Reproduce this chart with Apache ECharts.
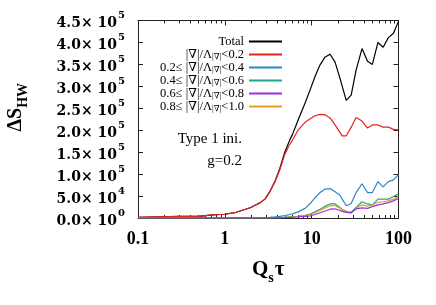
<!DOCTYPE html>
<html><head><meta charset="utf-8">
<script src="https://cdn.jsdelivr.net/npm/echarts@6/dist/echarts.min.js"></script>
<style>html,body{margin:0;padding:0;background:#fff}#c{width:436px;height:305px}</style>
</head><body><div id="c"></div>
<script>
// Q_s tau sample positions
const tau = [0.1, 0.18, 0.3, 0.5, 0.72, 0.88, 1.0, 1.35, 1.5, 2.0, 2.23, 2.55, 2.9, 3.3, 3.8, 4.3, 4.9, 5.6, 6.0, 7.0, 8.4, 9.6, 10.9, 12.5, 14.3, 16.3, 18.6, 21.2, 22.5, 25, 28.5, 32.5, 38, 44, 50, 58, 66.5, 76.5, 87.5, 100];
const total = [1500, 2500, 3500, 3500, 7000, 8000, 8500, 13000, 16000, 24000, 29000, 35000, 43000, 60000, 85000, 113000, 150000, 178000, 190000, 224000, 262000, 292000, 322000, 349000, 367000, 373000, 355000, 318000, 300000, 268000, 280000, 337000, 386000, 357000, 350000, 400000, 389000, 411000, 421000, 448000];
const band1 = [1500, 2500, 3500, 3500, 7000, 8000, 8500, 13000, 16000, 24000, 29000, 35000, 43000, 60000, 83000, 110000, 145000, 168000, 177000, 201000, 218000, 226000, 233000, 236000, 235000, 228000, 212000, 195000, 187000, 187000, 207000, 229000, 221000, 205000, 212000, 212000, 207000, 207000, 202000, 201000];
const band2 = [200, 200, 200, 200, 200, 200, 200, 250, 300, 400, 500, 700, 1000, 1500, 2500, 3500, 5500, 8000, 9500, 14000, 22000, 33000, 46000, 58000, 66000, 67000, 60000, 52000, 43000, 28000, 33000, 58000, 78000, 58000, 58000, 83000, 71000, 83000, 87000, 99000];
const band3 = [100, 100, 100, 100, 100, 100, 100, 100, 100, 150, 200, 250, 300, 500, 800, 1000, 1500, 2500, 3000, 4000, 6000, 9000, 14000, 20000, 27000, 32000, 32000, 24000, 19000, 15000, 13000, 24000, 37000, 32000, 30000, 43000, 43000, 43000, 49000, 55000];
const band4 = [100, 100, 100, 100, 100, 100, 100, 100, 100, 100, 100, 150, 200, 300, 400, 600, 900, 1400, 1700, 2500, 3500, 5000, 8000, 12000, 16000, 20000, 21000, 17000, 15000, 13000, 12000, 21000, 23000, 22000, 26000, 30000, 32000, 35000, 39000, 45000];
const band5 = [100, 100, 100, 100, 100, 100, 100, 100, 100, 120, 150, 200, 250, 400, 600, 800, 1200, 2000, 2500, 3500, 5000, 8000, 12000, 17000, 23000, 28000, 28000, 22000, 18000, 14000, 11000, 22000, 30000, 27000, 30000, 36000, 37000, 39000, 43000, 49000];

const seriesNames = ['Total', 'b1', 'b2', 'b3', 'b4', 'b5'];
const legendLabels = [
  '{n|Total}',
  '{n||∇|/Λ}{s||∇|}{n|<0.2}',
  '{n|0.2≤ |∇|/Λ}{s||∇|}{n|<0.4}',
  '{n|0.4≤ |∇|/Λ}{s||∇|}{n|<0.6}',
  '{n|0.6≤ |∇|/Λ}{s||∇|}{n|<0.8}',
  '{n|0.8≤ |∇|/Λ}{s||∇|}{n|<1.0}'
];
const yTickMant = ['0.0', '5.0', '1.0', '1.5', '2.0', '2.5', '3.0', '3.5', '4.0', '4.5'];
const yTickExp = ['0', '4', '5', '5', '5', '5', '5', '5', '5', '5'];
const xMajorTicks = [0.1, 1, 10, 100];
const xTickLabels = ['0.1', '1', '10', '100'];
const xMinorTicks = [0.2,0.3,0.4,0.5,0.6,0.7,0.8,0.9,2,3,4,5,6,7,8,9,20,30,40,50,60,70,80,90];

const colors = ['#000000', '#e8231c', '#2a87c8', '#22a486', '#9b30e0', '#e6a020'];
const drawOrder = [0, 1, 2, 3, 5, 4];
const values = [total, band1, band2, band3, band4, band5];

const FF = '"Liberation Serif", "DejaVu Serif", serif';
const FW = '"DejaVu Serif", "Liberation Serif", serif';
const chart = echarts.init(document.getElementById('c'), null, {renderer: 'canvas'});

function xAxisDef(pos, major) {
  return {
    type: 'log', logBase: 10, min: 0.1, max: 100, position: pos,
    axisLine: {show: major, onZero: false, lineStyle: {color: '#222', width: 1}},
    splitLine: {show: false},
    axisTick: major ? {show: true, inside: true, length: 5, lineStyle: {color: '#222'}}
                    : {show: true, inside: true, length: 3, customValues: xMinorTicks, lineStyle: {color: '#222'}},
    axisLabel: (major && pos === 'bottom') ? {
      show: true, margin: 12, fontFamily: FF, fontWeight: 'bold', fontSize: 18, color: '#000',
      formatter: function (v) { const i = xMajorTicks.findIndex(t => Math.abs(Math.log10(t) - Math.log10(v)) < 1e-6); return i >= 0 ? xTickLabels[i] : ''; }
    } : {show: false}
  };
}

const xAxes = [xAxisDef('bottom', true), xAxisDef('bottom', false), xAxisDef('top', true), xAxisDef('top', false)];
xAxes[0].name = '{a|Q}{b|s}{a|τ}';
xAxes[0].nameLocation = 'middle';
xAxes[0].nameGap = 41;
xAxes[0].nameTextStyle = {rich: {
  a: {fontFamily: FF, fontWeight: 'bold', fontSize: 21, color: '#000', lineHeight: 24, verticalAlign: 'top'},
  b: {fontFamily: FF, fontWeight: 'bold', fontSize: 14, color: '#000', lineHeight: 14, padding: [12, 1, 0, 0], verticalAlign: 'top'}
}};

function yAxisDef(pos) {
  const d = {
    type: 'value', min: 0, max: 450000, interval: 50000, position: pos,
    axisLine: {show: true, lineStyle: {color: '#222', width: 1}},
    splitLine: {show: false},
    axisTick: {show: true, inside: true, length: 5, lineStyle: {color: '#222'}},
    axisLabel: {show: false}
  };
  if (pos === 'left') {
    d.axisLabel = {
      show: true, margin: 13,
      formatter: function (v, i) { return '{m|' + yTickMant[i] + '× 10}{e|' + yTickExp[i] + '}'; },
      rich: {
        m: {fontFamily: FW, fontWeight: 'bold', fontSize: 14, color: '#000', lineHeight: 20, verticalAlign: 'bottom'},
        e: {fontFamily: FW, fontWeight: 'bold', fontSize: 10, color: '#000', lineHeight: 9, padding: [0, 0, 0, 1], verticalAlign: 'top'}
      }
    };
    d.name = '{a|ΔS}{b|HW}';
    d.nameLocation = 'middle';
    d.nameGap = 110;
    d.nameTextStyle = {
      padding: [0, 0, 0, 24],
      rich: {
        a: {fontFamily: FF, fontWeight: 'bold', fontSize: 20, color: '#000', lineHeight: 22, verticalAlign: 'top'},
        b: {fontFamily: FF, fontWeight: 'bold', fontSize: 14, color: '#000', lineHeight: 14, padding: [10, 0, 0, 0], verticalAlign: 'top'}
      }
    };
  }
  return d;
}

const series = drawOrder.map(k => ({
  name: seriesNames[k], type: 'line', xAxisIndex: 0, yAxisIndex: 0,
  symbol: 'none', smooth: false, color: colors[k],
  lineStyle: {width: 1.2, color: colors[k]},
  data: tau.map((t, i) => [t, values[k][i]]),
  z: 2 + drawOrder.indexOf(k)
}));

chart.setOption({
  animation: false,
  backgroundColor: '#fff',
  grid: {left: 138, right: 37.5, top: 20.5, bottom: 87, containLabel: false, outerBoundsMode: 'none'},
  xAxis: xAxes,
  yAxis: [yAxisDef('left'), yAxisDef('right')],
  legend: {
    orient: 'vertical', right: 149, top: 30.5, align: 'right',
    itemWidth: 33, itemHeight: 2, itemGap: 0, icon: 'rect',
    data: seriesNames,
    formatter: function (name) { return legendLabels[seriesNames.indexOf(name)]; },
    textStyle: {
      fontFamily: FF, fontSize: 12.5, color: '#000',
      rich: {
        n: {fontFamily: FF, fontSize: 12.5, color: '#000', lineHeight: 12, verticalAlign: 'top'},
        s: {fontFamily: FF, fontSize: 8.5, color: '#000', lineHeight: 9, padding: [4, 0, 0, 0], verticalAlign: 'top'}
      }
    }
  },
  graphic: [
    {type: 'text', style: {text: 'Type 1 ini.', x: 242, y: 139, align: 'right', verticalAlign: 'middle', font: '15px "Liberation Serif"', fill: '#000'}},
    {type: 'text', style: {text: 'g=0.2', x: 242, y: 161, align: 'right', verticalAlign: 'middle', font: '15px "Liberation Serif"', fill: '#000'}}
  ],
  series: series
});
</script>
</body></html>
